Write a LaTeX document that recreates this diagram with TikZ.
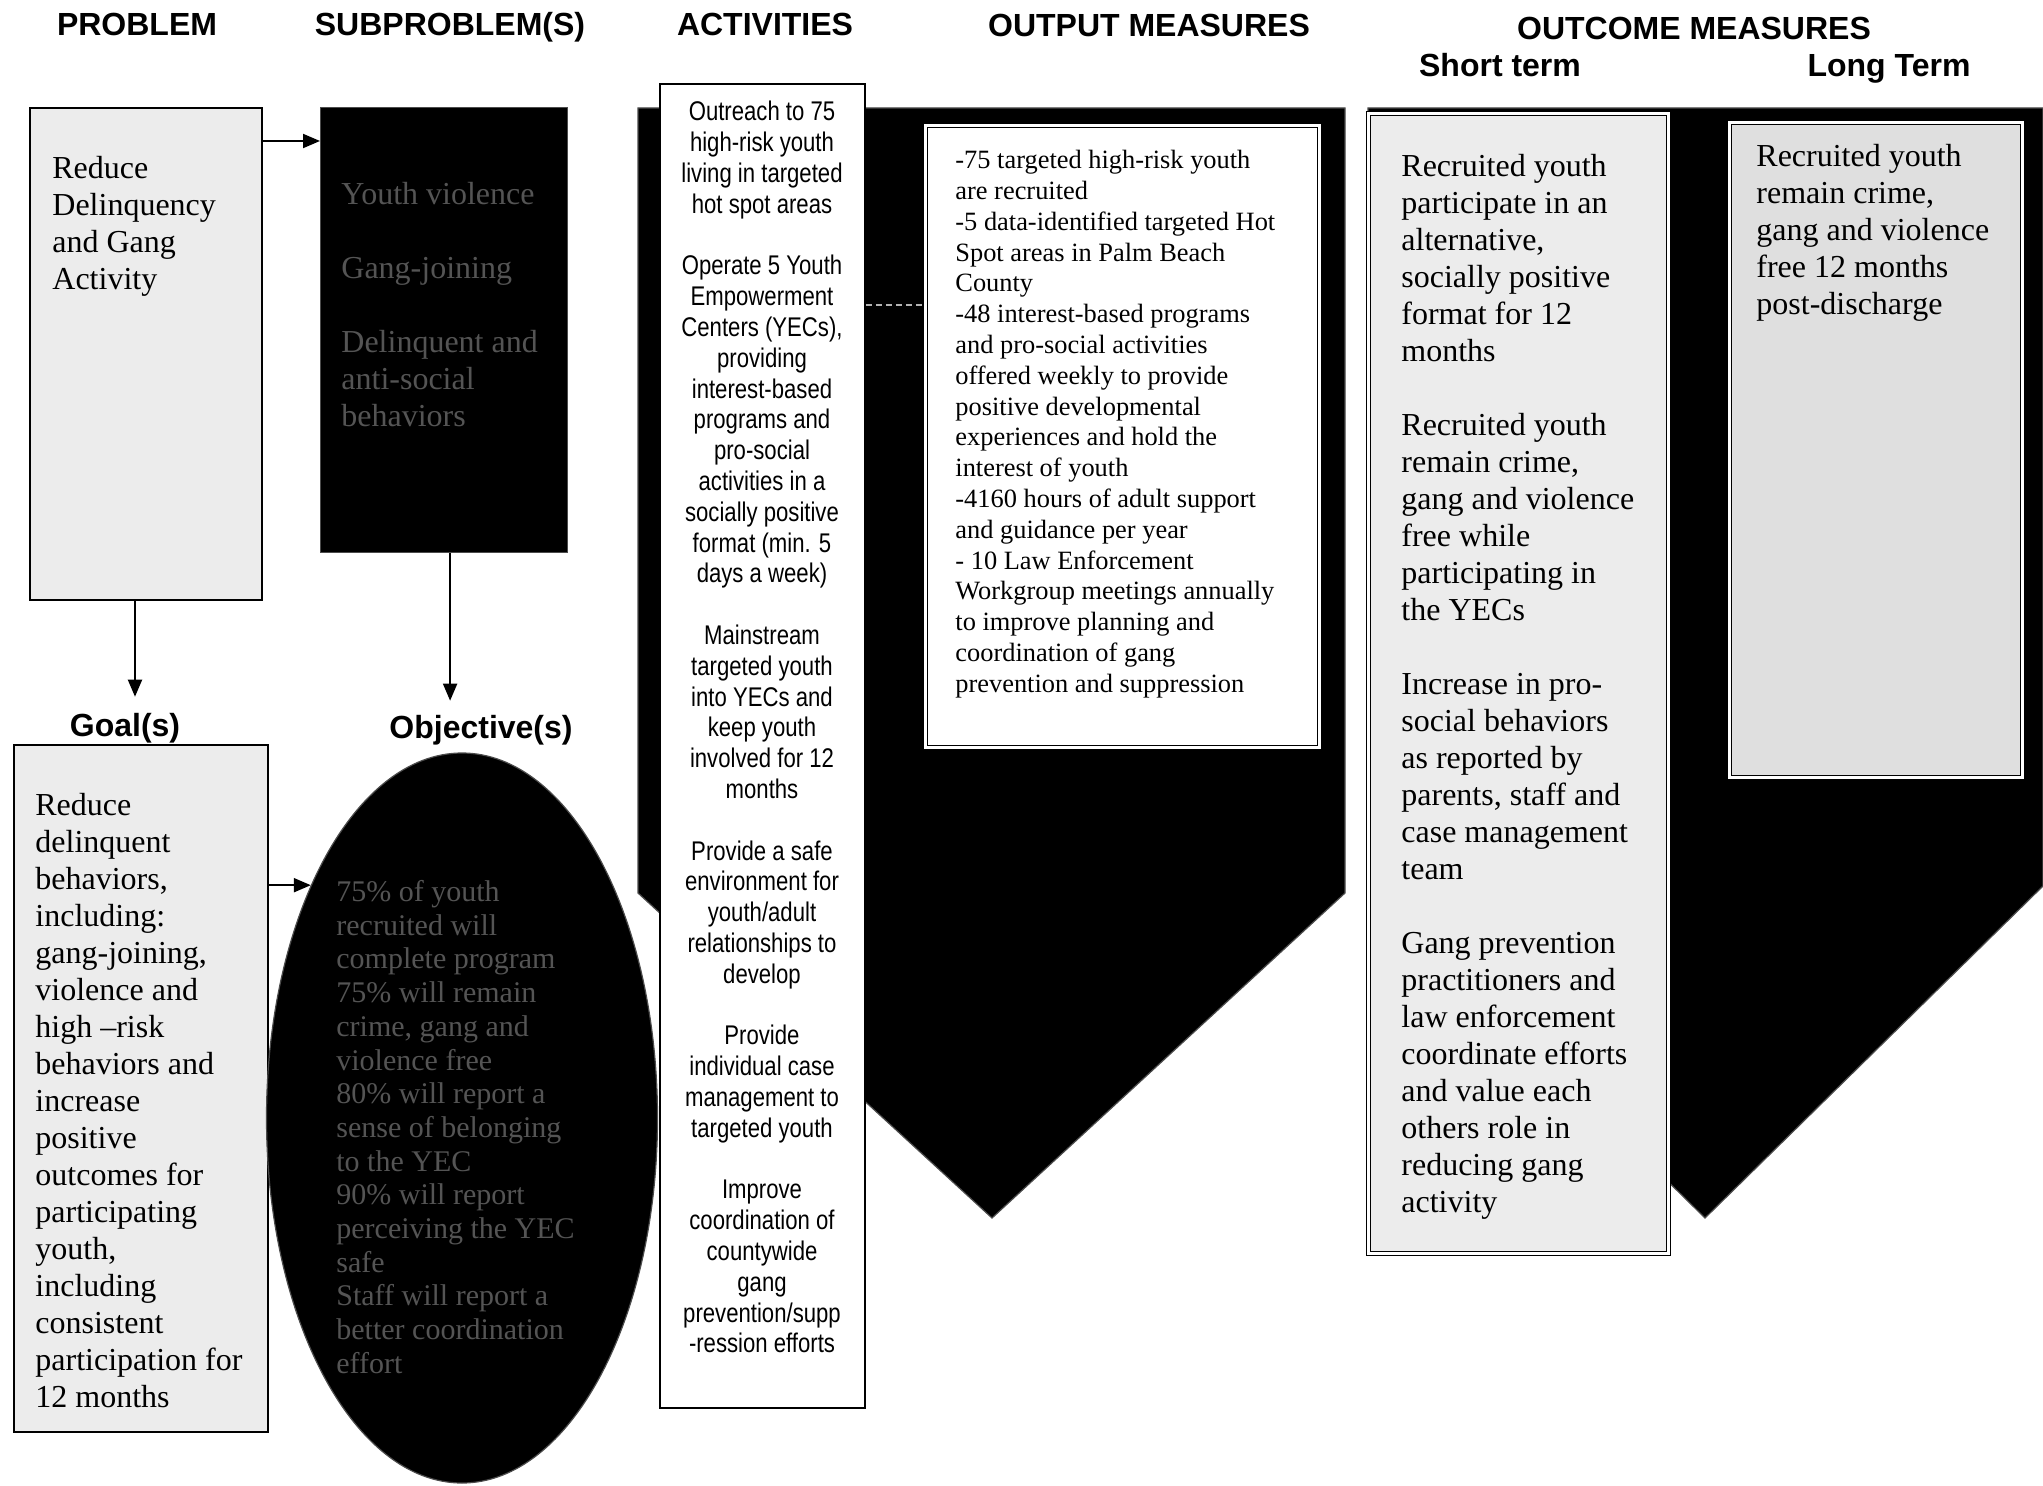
\documentclass[tikz,border=0pt]{standalone}
\usepackage{fontspec}
\setmainfont{Liberation Serif}
\newfontfamily\headfont{Liberation Sans}
\newfontfamily\narrowfont[FakeStretch=0.82]{Liberation Sans}
\usetikzlibrary{shapes.geometric,arrows.meta}

\definecolor{ghost}{gray}{0.33}

\tikzset{
  head/.style={font=\headfont\bfseries\fontsize{16}{19}\selectfont, inner sep=0pt},
  panel/.style={draw=black, line width=1pt, anchor=north west, inner sep=0pt},
  dark/.style={fill=black, draw=black!70, line width=0.6pt},
  dbl/.style={draw=black, double=white, double distance=1.3pt, line width=0.7pt, anchor=north west, inner sep=0pt},
  body/.style={font=\fontsize{16}{18.5}\selectfont, align=left, inner sep=0pt, anchor=north west},
  arr/.style={line width=1pt, -{Triangle[length=8.5pt,width=7pt]}},
  link/.style={draw=gray!60, line width=0.6pt, densely dashed},
}

\begin{document}
\begin{tikzpicture}[x=0.5pt, y=-0.5pt]
\useasboundingbox (0,0) rectangle (2043,1486);

\def\outputshape{(638,108) -- (1345,108) -- (1345,893) -- (992,1218) -- (638,893) -- cycle}
\def\outcomeshape{(1368,108) -- (2043,108) -- (2043,886) -- (1705,1218) -- (1368,886) -- cycle}

% headings
\node[head] (hprob) at (137,24) {PROBLEM};
\node[head] (hsub) at (450,27) {SUBPROBLEM(S)};
\node[head] (hact) at (765,24) {ACTIVITIES};
\node[head] (hout) at (1149,25) {OUTPUT MEASURES};
\node[head] (hres) at (1694,28) {OUTCOME MEASURES};
\node[head] (hshort) at (1500,65) {Short term};
\node[head] (hlong) at (1889,69) {Long Term};
\node[head] (goallbl) at (125,728) {Goal(s)};
\node[head] (objlbl) at (481,730) {Objective(s)};

% boxes
\node[panel, fill=gray!15, minimum width=116pt, minimum height=246pt] (prob) at (29,107) {};
\node[panel, dark, minimum width=123.5pt, minimum height=222.5pt] (sub) at (320,107) {};
\node[panel, fill=gray!15, minimum width=127pt, minimum height=343.5pt] (goal) at (13,744) {};

\filldraw[dark] \outputshape;
\node[dark, ellipse, inner sep=0pt, minimum width=195.5pt, minimum height=365pt] (obj) at (462,1118) {};
\node[panel, fill=white, minimum width=102.5pt, minimum height=662pt] (act) at (659,83) {};
\node[dbl, fill=white, minimum width=197pt, minimum height=311pt] (outbox) at (925,125) {};

\filldraw[dark] \outcomeshape;
\node[dbl, fill=gray!15, minimum width=150pt, minimum height=570pt] (shortbox) at (1368,113) {};
\node[dbl, fill=gray!25, minimum width=146.5pt, minimum height=327.5pt] (longbox) at (1729,122) {};

% texts
\node[body] (probtxt) at (52,156) {Reduce\\Delinquency\\and Gang\\Activity};
\node[body, text=ghost] (subtxt) at (341,182) {Youth violence\\[18.5pt]Gang-joining\\[18.5pt]Delinquent and\\anti-social\\behaviors};
\node[body] (goaltxt) at (35,793) {Reduce\\delinquent\\behaviors,\\including:\\gang-joining,\\violence and\\high –risk\\behaviors and\\increase\\positive\\outcomes for\\participating\\youth,\\including\\consistent\\participation for\\12 months};
\node[body, text=ghost, font=\fontsize{15}{16.85}\selectfont] (objtxt) at (336,880) {75\% of youth\\recruited will\\complete program\\75\% will remain\\crime, gang and\\violence free\\80\% will report a\\sense of belonging\\to the YEC\\90\% will report\\perceiving the YEC\\safe\\Staff will report a\\better coordination\\effort};
\node[inner sep=0pt, anchor=north, align=center, font=\narrowfont\fontsize{13.5}{15.4}\selectfont] (acttxt) at (762,101) {Outreach to 75\\high-risk youth\\living in targeted\\hot spot areas\\[15.4pt]Operate 5 Youth\\Empowerment\\Centers (YECs),\\providing\\interest-based\\programs and\\pro-social\\activities in a\\socially positive\\format (min. 5\\days a week)\\[15.4pt]Mainstream\\targeted youth\\into YECs and\\keep youth\\involved for 12\\months\\[15.4pt]Provide a safe\\environment for\\youth/adult\\relationships to\\develop\\[15.4pt]Provide\\individual case\\management to\\targeted youth\\[15.4pt]Improve\\coordination of\\countywide\\gang\\prevention/supp\\-ression efforts};
\node[body, font=\fontsize{13.2}{15.4}\selectfont] (outtxt) at (955,150) {-75 targeted high-risk youth\\are recruited\\-5 data-identified targeted Hot\\Spot areas in Palm Beach\\County\\-48 interest-based programs\\and pro-social activities\\offered weekly to provide\\positive developmental\\experiences and hold the\\interest of youth\\-4160 hours of adult support\\and guidance per year\\- 10 Law Enforcement\\Workgroup meetings annually\\to improve planning and\\coordination of gang\\prevention and suppression};
\node[body] (shorttxt) at (1401,154) {Recruited youth\\participate in an\\alternative,\\socially positive\\format for 12\\months\\[18.5pt]Recruited youth\\remain crime,\\gang and violence\\free while\\participating in\\the YECs\\[18.5pt]Increase in pro-\\social behaviors\\as reported by\\parents, staff and\\case management\\team\\[18.5pt]Gang prevention\\practitioners and\\law enforcement\\coordinate efforts\\and value each\\others role in\\reducing gang\\activity};
\node[body] (longtxt) at (1756,144) {Recruited youth\\remain crime,\\gang and violence\\free 12 months\\post-discharge};

% connectors
\draw[arr] ([yshift=-17pt]prob.north east) -- ([yshift=-17pt]prob.north east -| sub.west);
\draw[arr, shorten >=8pt] ([xshift=-5.5pt]prob.south) -- ([xshift=-5.5pt]prob.south |- goallbl.north);
\draw[arr, shorten >=7pt] ([xshift=3pt]sub.south) -- ([xshift=3pt]sub.south |- objlbl.north);
\draw[arr] (goal.east |- obj.123) -- (obj.123);
\draw[link] ([yshift=-111pt]act.north east) -- ([yshift=-111pt]act.north east -| outbox.west);

\end{tikzpicture}
\end{document}
